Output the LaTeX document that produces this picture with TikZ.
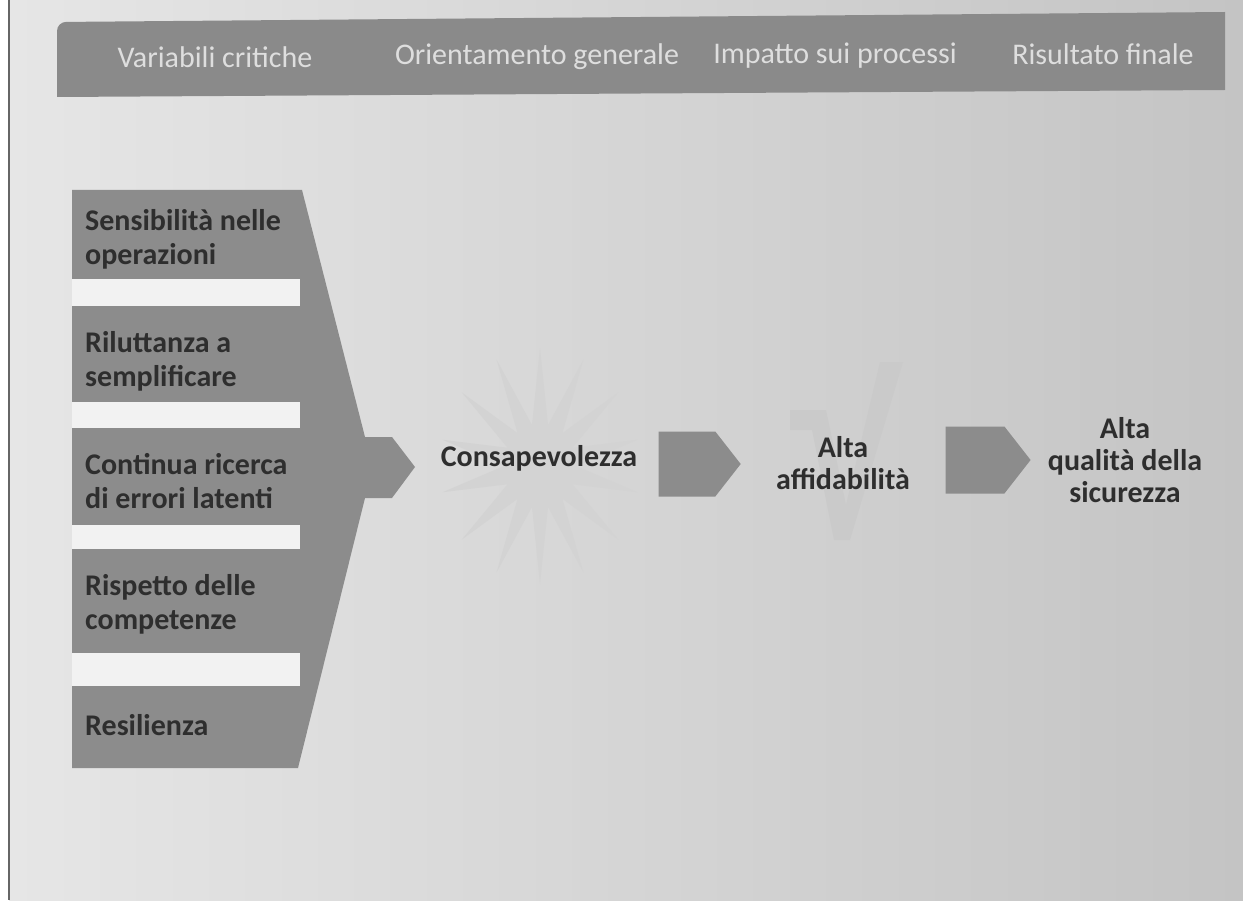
\documentclass[tikz,border=0pt]{standalone}
\usepackage{fontspec}
\setmainfont{Carlito}
\usetikzlibrary{shapes.symbols}
\definecolor{pagelight}{HTML}{E6E6E6}
\definecolor{pagedark}{HTML}{C4C4C4}
\definecolor{bandgray}{HTML}{8A8A8A}
\definecolor{boxgray}{HTML}{8C8C8C}
\definecolor{gapwhite}{HTML}{F2F2F2}
\definecolor{stargray}{HTML}{D3D3D3}
\definecolor{checkgray}{HTML}{CACACA}
\definecolor{inkdark}{HTML}{2E2E2E}
\definecolor{headink}{HTML}{DEDEDE}
\tikzset{
  headtxt/.style={text=headink, font=\fontsize{30}{34}\selectfont, inner sep=0pt},
  boxtxt/.style={text=inkdark, font=\fontsize{30}{34}\selectfont\bfseries, align=left, anchor=west, inner sep=0pt},
  midtxt/.style={text=inkdark, font=\fontsize{30}{32}\selectfont\bfseries, align=center, inner sep=0pt},
  arrowbox/.style={signal, signal to=east, signal pointer angle=104, fill=boxgray, draw=none, inner sep=0pt}
}
\begin{document}
\begin{tikzpicture}[x=1pt,y=-1pt]
\useasboundingbox (0,0) rectangle (1243,904);
\fill[white] (0,0) rectangle (1243,904);
\shade[left color=pagelight, right color=pagedark] (9,0) rectangle (1243,900);
\draw[black!60, line width=1.5pt] (9,0) -- (9,900);
% header band
\fill[bandgray] (57,97) [rounded corners=9pt] -- (57,22) [sharp corners] -- (1225,12) -- (1225,90) -- cycle;
\node[headtxt] (h1) at (215,57) {Variabili critiche};
\node[headtxt] (h2) at (537,57) {Orientamento generale};
\node[headtxt] (h3) at (835,56) {Impatto sui processi};
\node[headtxt] (h4) at (1103,54) {Risultato finale};
% left funnel shape
\fill[boxgray] (72,190) -- (302,190) -- (365,437) -- (392,437) -- (415,467) -- (392,498) -- (365,498) -- (298,768) -- (72,768) -- cycle;
\coordinate (funneltip) at (415,467);
\fill[gapwhite] (72,279) rectangle (300,306);
\fill[gapwhite] (72,402) rectangle (300,428);
\fill[gapwhite] (72,525) rectangle (300,549);
\fill[gapwhite] (72,653) rectangle (300,686);
\node[boxtxt] (s1) at (85,239) {Sensibilità nelle\\operazioni};
\node[boxtxt] (s2) at (85,361) {Riluttanza a\\semplificare};
\node[boxtxt] (s3) at (85,481) {Continua ricerca\\di errori latenti};
\node[boxtxt] (s4) at (85,604) {Rispetto delle\\competenze};
\node[boxtxt] (s5) at (85,725) {Resilienza};
% star
\fill[stargray] plot[samples at={0,1,...,27}, variable=\k]
  ({540+cos(90+\k*360/28)*(mod(\k,2)==0 ? 100 : 36)}, {466-sin(90+\k*360/28)*(mod(\k,2)==0 ? 118 : 42)}) -- cycle;
\node[midtxt] (consap) at (539,458) {Consapevolezza};
% arrow 2
\node[arrowbox, minimum width=82pt, minimum height=65pt] (arr1) at (687,464) {};
% check mark
\fill[checkgray] (790,410) -- (826,410) -- (846,505) -- (880,362) -- (903,362) -- (850,540) -- (834,540) -- (812,430) -- (790,430) -- cycle;
\node[midtxt] (alta1) at (843,463) {Alta\\affidabilità};
% arrow 3
\node[arrowbox, minimum width=85pt, minimum height=67pt] (arr2) at (975,460) {};
\node[midtxt] (alta2) at (1125,460) {Alta\\qualità della\\sicurezza};
\end{tikzpicture}
\end{document}
